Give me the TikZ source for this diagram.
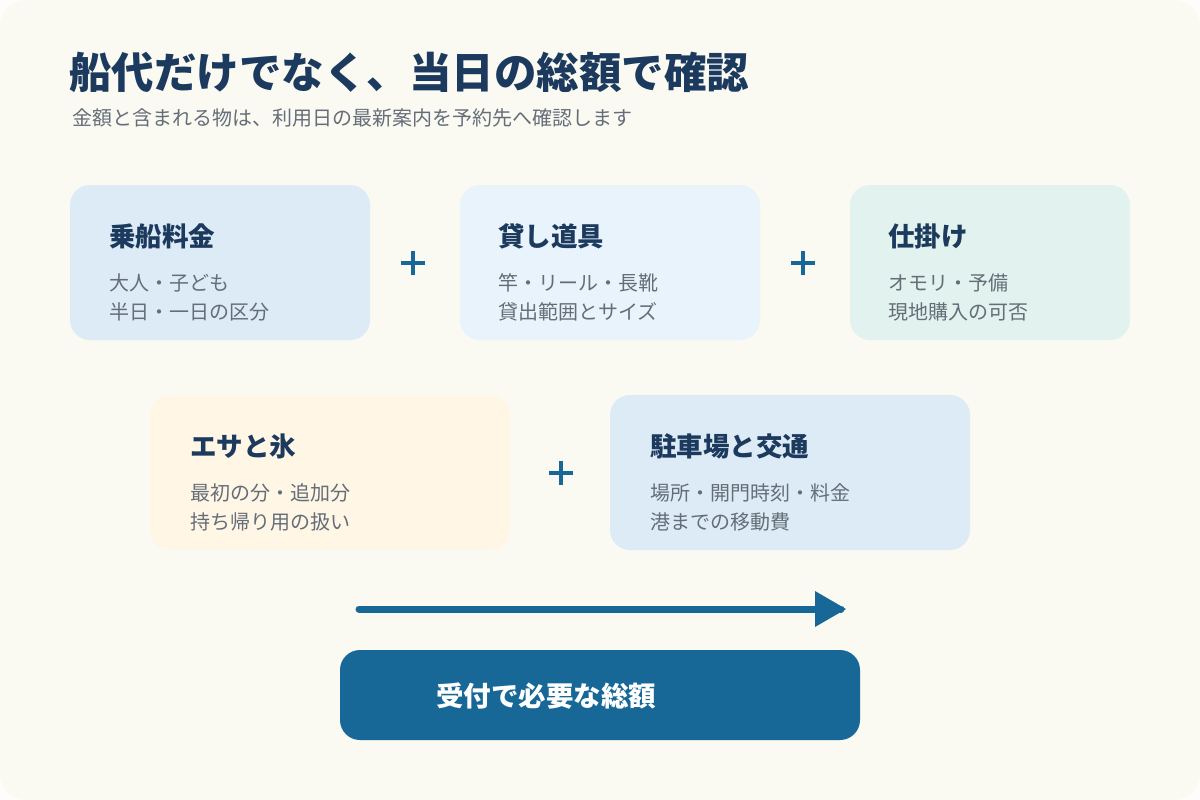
\documentclass[tikz,border=0pt]{standalone}
\usepackage{fontspec}
\setmainfont{Noto Sans CJK JP}
\newfontfamily\jp{Noto Sans CJK JP}
\usetikzlibrary{positioning}
\definecolor{pagebg}{HTML}{FAF9F2}
\definecolor{outerbg}{HTML}{FDFDFA}
\definecolor{navy}{HTML}{1C3A5E}
\definecolor{graytxt}{HTML}{656E78}
\definecolor{accent}{HTML}{186897}
\definecolor{fillA}{HTML}{DCEBF5}
\definecolor{fillB}{HTML}{E8F3FC}
\definecolor{fillC}{HTML}{E2F2EE}
\definecolor{fillD}{HTML}{FFF6E6}
\tikzset{
  card/.style={rounded corners=20pt, draw=none, inner sep=0pt},
  cardtitle/.style={anchor=west, inner sep=0pt, text=navy, font=\jp\bfseries\fontsize{26.5}{30}\selectfont},
  cardbody/.style={anchor=west, inner sep=0pt, text=graytxt, font=\jp\fontsize{20}{24}\selectfont},
}
\begin{document}
\begin{tikzpicture}[x=1pt,y=-1pt]
\useasboundingbox (0,0) rectangle (1200,800);
\fill[outerbg] (0,0) rectangle (1200,800);
\fill[pagebg, rounded corners=26pt] (0,0) rectangle (1200,800);

\node[anchor=west, inner sep=0pt, text=navy, font=\jp\bfseries\fontsize{42.5}{48}\selectfont] (title) at (69,72) {船代だけでなく、当日の総額で確認};
\node[anchor=west, inner sep=0pt, text=graytxt, font=\jp\fontsize{20}{24}\selectfont] (subtitle) at (72,118) {金額と含まれる物は、利用日の最新案内を予約先へ確認します};

% cards row 1
\fill[card, fillA] (70,185) rectangle (370,340);
\node[cardtitle] (t1) at (109,236) {乗船料金};
\node[cardbody] (b1a) at (109,283) {大人・子ども};
\node[cardbody] (b1b) at (109,312) {半日・一日の区分};

\fill[card, fillB] (460,185) rectangle (760,340);
\node[cardtitle] (t2) at (498,236) {貸し道具};
\node[cardbody] (b2a) at (498,283) {竿・リール・長靴};
\node[cardbody] (b2b) at (498,312) {貸出範囲とサイズ};

\fill[card, fillC] (850,185) rectangle (1130,340);
\node[cardtitle] (t3) at (888,236) {仕掛け};
\node[cardbody] (b3a) at (888,283) {オモリ・予備};
\node[cardbody] (b3b) at (888,312) {現地購入の可否};

% cards row 2
\fill[card, fillD] (150,395) rectangle (510,550);
\node[cardtitle] (t4) at (190,446) {エサと氷};
\node[cardbody] (b4a) at (190,493) {最初の分・追加分};
\node[cardbody] (b4b) at (190,522) {持ち帰り用の扱い};

\fill[card, fillA] (610,395) rectangle (970,550);
\node[cardtitle] (t5) at (650,446) {駐車場と交通};
\node[cardbody] (b5a) at (650,493) {場所・開門時刻・料金};
\node[cardbody] (b5b) at (650,522) {港までの移動費};

% plus signs
\draw[accent, line width=3.2pt] (401,263) -- (425,263) (413,251) -- (413,275);
\draw[accent, line width=3.2pt] (791,263) -- (815,263) (803,251) -- (803,275);
\draw[accent, line width=3.2pt] (549,473) -- (573,473) (561,461) -- (561,485);

% arrow
\coordinate (arrS) at (359,609);
\coordinate (arrE) at (841,609);
\draw[accent, line width=7pt, line cap=round] (arrS) -- (arrE);
\fill[accent] (815,591) -- (846,609) -- (815,627) -- cycle;

% result
\fill[card, accent] (340,650) rectangle (860,740);
\node[anchor=west, inner sep=0pt, text=white, font=\jp\bfseries\fontsize{27.5}{32}\selectfont] (result) at (436,696) {受付で必要な総額};
\end{tikzpicture}
\end{document}
